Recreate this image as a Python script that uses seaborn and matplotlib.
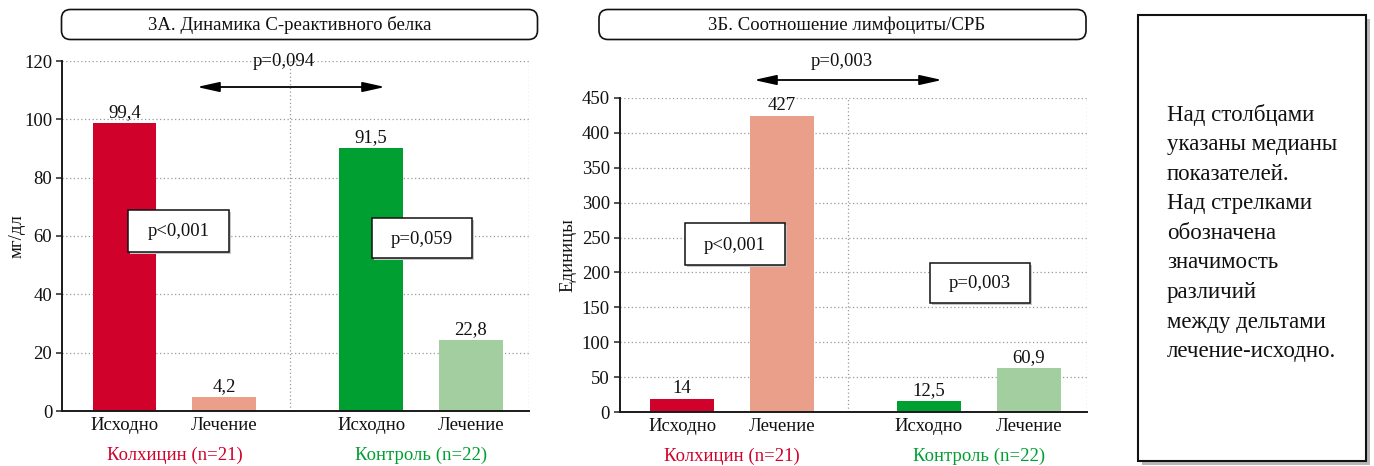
import numpy as np
import pandas as pd
import matplotlib
matplotlib.use("Agg")
import matplotlib.pyplot as plt
import matplotlib.transforms as mtransforms
from matplotlib.patches import Rectangle, FancyBboxPatch
import seaborn as sns

# ---------------- data ----------------
groups = ["Колхицин (n=21)", "Контроль (n=22)"]
phases = ["Исходно", "Лечение"]
group_colors = ["#D0022B", "#009F32"]

crp_values = [98.7, 4.8, 90.2, 24.3]          # bar heights (as drawn)
crp_labels = ["99,4", "4,2", "91,5", "22,8"]   # medians written above bars
crp_ticks = [0, 20, 40, 60, 80, 100, 120]

lcr_values = [19.0, 424.0, 16.2, 63.5]
lcr_labels = ["14", "427", "12,5", "60,9"]
lcr_ticks = [0, 50, 100, 150, 200, 250, 300, 350, 400, 450]

bar_colors = ["#D0022B", "#EA9F8B", "#009F32", "#A3CEA0"]

titles = ["3А. Динамика С-реактивного белка", "3Б. Соотношение лимфоциты/СРБ"]
ylabels = ["мг/дл", "Единицы"]
arrow_p = ["p=0,094", "p=0,003"]
box_p = [["p<0,001", "p=0,059"], ["p<0,001", "p=0,003"]]
note_lines = ["Над столбцами", "указаны медианы", "показателей.", "Над стрелками",
              "обозначена", "значимость", "различий", "между дельтами", "лечение-исходно."]

# ---------------- style ----------------
sns.set_theme(style="white")
plt.rcParams["font.family"] = ["Liberation Serif", "DejaVu Serif"]
FS = 13.5

W, H = 1374, 466
fig = plt.figure(figsize=(W / 100, H / 100), dpi=100)
fig.patch.set_facecolor("white")


def rect(l, t, r, b):
    return [l / W, 1 - b / H, (r - l) / W, (b - t) / H]


ax1 = fig.add_axes(rect(62, 61, 529, 411))
ax2 = fig.add_axes(rect(619.6, 97.7, 1086.7, 412.3))

DIVIDER = 0.47
grid_kw = dict(color="#9a9a9a", linewidth=0.9, linestyle=(0, (1, 2)))


def draw(ax, values, labels, ticks, ylabel, label_x):
    df = pd.DataFrame({
        "group": np.repeat(groups, len(phases)),
        "phase": phases * len(groups),
        "value": values,
    })
    sns.barplot(data=df, x="group", y="value", hue="phase", order=groups,
                hue_order=phases, width=0.81, gap=0.36, saturation=1,
                errorbar=None, legend=False, ax=ax, edgecolor="none")
    patches = sorted(ax.patches, key=lambda p: p.get_x())
    centers = []
    for p, c, lab in zip(patches, bar_colors, labels):
        p.set_facecolor(c)
        p.set_edgecolor("none")
        cx = p.get_x() + p.get_width() / 2
        centers.append(cx)
        ax.annotate(lab, (cx, p.get_height()), xytext=(0, 6),
                    textcoords="offset pixels", ha="center", va="baseline",
                    fontsize=FS, color="#111111")
    ax.set_xlim(-0.456, 1.438)
    ax.set_ylim(ticks[0], ticks[-1])
    ax.set_yticks(ticks)
    ax.set_yticklabels([str(t) for t in ticks], fontsize=FS, color="#111111")
    ax.set_xticks(centers)
    ax.set_xticklabels(phases * len(groups), fontsize=FS, color="#111111")
    ax.set_xticks([DIVIDER, ax.get_xlim()[1]], minor=True)
    ax.set_xlabel("")
    ax.set_ylabel(ylabel, fontsize=FS, color="#111111")
    ax.yaxis.set_label_coords(label_x, 0.5)
    ax.tick_params(axis="x", which="major", length=0, pad=4)
    ax.tick_params(axis="x", which="minor", length=5, width=1.1,
                   direction="inout", color="#222222")
    ax.tick_params(axis="y", which="major", length=4, width=1.1,
                   direction="out", color="#222222", pad=3, left=True)
    ax.grid(False)
    ax.yaxis.grid(True, **grid_kw)
    ax.xaxis.grid(True, which="minor", **grid_kw)
    ax.set_axisbelow(True)
    for s in ["left", "bottom"]:
        ax.spines[s].set_color("#1a1a1a")
        ax.spines[s].set_linewidth(1.4)
        ax.spines[s].set_visible(True)
    ax.spines["top"].set_visible(False)
    ax.spines["right"].set_visible(False)
    trans = mtransforms.blended_transform_factory(ax.transData, ax.transAxes)
    for gi, (g, gc) in enumerate(zip(groups, group_colors)):
        ax.annotate(g, (gi, 0), xycoords=trans, xytext=(0, -44),
                    textcoords="offset pixels", ha="center", va="center",
                    fontsize=FS, color=gc)


draw(ax1, crp_values, crp_labels, crp_ticks, ylabels[0], -0.079)
draw(ax2, lcr_values, lcr_labels, lcr_ticks, ylabels[1], -0.092)

# ---------------- overlay annotations (pixel coords) ----------------
ov = fig.add_axes([0, 0, 1, 1], zorder=10)
ov.set_xlim(0, W)
ov.set_ylim(H, 0)
ov.axis("off")
ov.patch.set_alpha(0)

# title boxes
for (l, t, r, b), title, tx in zip([(61.5, 9.5, 537.5, 39.5), (599, 9.5, 1086, 39.5)],
                                   titles, [290, 847]):
    ov.add_patch(FancyBboxPatch((l, t), r - l, b - t,
                                boxstyle="round,pad=0,rounding_size=9",
                                facecolor="white", edgecolor="#111111", linewidth=1.2))
    ov.text(tx, (t + b) / 2 + 1, title, ha="center", va="center",
            fontsize=FS, color="#111111")

# arrows with p-values
for (x0, x1, ya), (tx, ty), lab in zip([(197, 385, 87), (754, 942, 80)],
                                       [(284, 62), (842, 61)], arrow_p):
    ov.annotate("", xy=(x1, ya), xytext=(x0, ya),
                arrowprops=dict(arrowstyle="<|-|>,head_length=0.9,head_width=0.2",
                                color="black", lw=1.3, mutation_scale=15,
                                shrinkA=0, shrinkB=0))
    ov.text(tx, ty, lab, ha="center", va="center", fontsize=FS, color="#111111")

# p boxes
pbox_pos = [[(128, 210, 229, 252), (372, 218, 472, 258)],
            [(685, 223, 785, 265), (930, 263, 1030, 303)]]
for boxes, labs in zip(pbox_pos, box_p):
    for (l, t, r, b), lab in zip(boxes, labs):
        ov.add_patch(Rectangle((l + 2, t + 2), r - l, b - t, facecolor="#c8c8c8",
                               edgecolor="none"))
        ov.add_patch(Rectangle((l, t), r - l, b - t, facecolor="white",
                               edgecolor="#111111", linewidth=1.1))
        ov.text((l + r) / 2, (t + b) / 2 + 1, lab, ha="center", va="center",
                fontsize=FS, color="#111111")

# info box
l, t, r, b = 1138, 15, 1366, 461
ov.add_patch(Rectangle((l + 4, t + 4), r - l, b - t, facecolor="#8a8a8a",
                       edgecolor="none", alpha=0.6))
ov.add_patch(Rectangle((l, t), r - l, b - t, facecolor="white",
                       edgecolor="#111111", linewidth=1.5))
for i, line in enumerate(note_lines):
    ov.text(1167, 115 + i * 29.6, line, ha="left", va="center",
            fontsize=16.5, color="#111111")

fig.savefig("out.png", dpi=100, facecolor="white")
